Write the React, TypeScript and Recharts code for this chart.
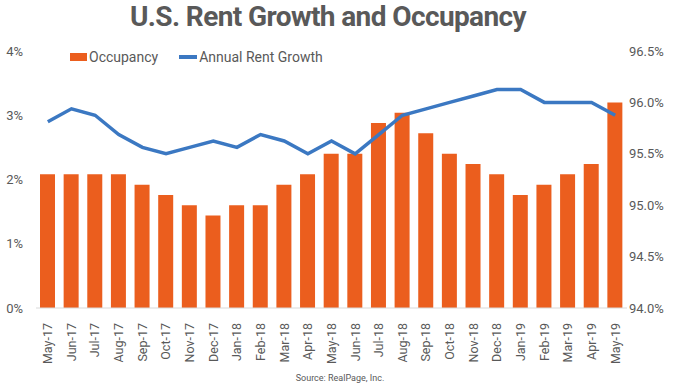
import { ComposedChart, Bar, Line, XAxis, YAxis, Legend } from 'recharts';

const MONTHS = [
  'May-17', 'Jun-17', 'Jul-17', 'Aug-17', 'Sep-17', 'Oct-17', 'Nov-17', 'Dec-17', 'Jan-18',
  'Feb-18', 'Mar-18', 'Apr-18', 'May-18', 'Jun-18', 'Jul-18', 'Aug-18', 'Sep-18', 'Oct-18',
  'Nov-18', 'Dec-18', 'Jan-19', 'Feb-19', 'Mar-19', 'Apr-19', 'May-19',
];

const OCCUPANCY = [
  95.3, 95.3, 95.3, 95.3, 95.2, 95.1, 95.0, 94.9, 95.0, 95.0, 95.2, 95.3, 95.5, 95.5, 95.8,
  95.9, 95.7, 95.5, 95.4, 95.3, 95.1, 95.2, 95.3, 95.4, 96.0,
];

const RENT_GROWTH = [
  2.9, 3.1, 3.0, 2.7, 2.5, 2.4, 2.5, 2.6, 2.5, 2.7, 2.6, 2.4, 2.6, 2.4, 2.7, 3.0, 3.1, 3.2,
  3.3, 3.4, 3.4, 3.2, 3.2, 3.2, 3.0,
];

const LEFT_TICKS = [0, 1, 2, 3, 4];
const RIGHT_TICKS = [94.0, 94.5, 95.0, 95.5, 96.0, 96.5];

const ORANGE = '#EB5E1E';
const BLUE = '#3B78C2';
const GRAY = '#595959';
const FONT = 'Roboto, "Noto Sans", sans-serif';

const data = MONTHS.map((m, i) => ({
  month: m,
  occupancy: OCCUPANCY[i],
  rent: RENT_GROWTH[i],
}));

function MonthTick({ x, y, payload }: any) {
  const ty = y + 7;
  return (
    <text
      x={x}
      y={ty}
      dy="0.35em"
      transform={`rotate(-90, ${x}, ${ty})`}
      textAnchor="end"
      fill={GRAY}
      fontSize={12.5}
      fontFamily={FONT}
    >
      {payload.value}
    </text>
  );
}

function LegendBox() {
  return (
    <div style={{ display: 'flex', alignItems: 'center', fontFamily: FONT, fontSize: 14, color: GRAY }}>
      <span style={{ width: 17, height: 8, background: ORANGE, display: 'inline-block', marginRight: 2 }} />
      <span>Occupancy</span>
      <span style={{ width: 18, height: 4, background: BLUE, display: 'inline-block', marginLeft: 21, marginRight: 2 }} />
      <span>Annual Rent Growth</span>
    </div>
  );
}

export default function App() {
  return (
    <div style={{ position: 'absolute', left: 0, top: 0, width: 680, height: 384, background: '#fff' }}>
      <div
        style={{
          position: 'absolute',
          left: 0,
          top: 0,
          width: 656,
          textAlign: 'center',
          fontFamily: FONT,
          fontWeight: 700,
          fontSize: 28,
          letterSpacing: -0.6,
          color: GRAY,
          lineHeight: '34px',
        }}
      >
        U.S. Rent Growth and Occupancy
      </div>
      <div
        style={{
          position: 'absolute',
          left: 0,
          top: 372,
          width: 680,
          textAlign: 'center',
          fontFamily: FONT,
          fontSize: 9,
          color: GRAY,
          lineHeight: '12px',
        }}
      >
        Source: RealPage, Inc.
      </div>
      <ComposedChart
        width={680}
        height={384}
        data={data}
        margin={{ top: 35, right: 0, bottom: 16, left: 0 }}
        barCategoryGap="36%"
      >
        <XAxis
          dataKey="month"
          interval={0}
          height={60}
          tickLine={false}
          axisLine={{ stroke: '#d9d9d9' }}
          tick={<MonthTick />}
        />
        <YAxis
          yAxisId="left"
          domain={[0, 4]}
          ticks={LEFT_TICKS}
          width={36}
          tickSize={0}
          tickMargin={13}
          tickLine={false}
          axisLine={false}
          tickFormatter={(v: number) => `${v}%`}
          tick={{ fill: GRAY, fontSize: 13, fontFamily: FONT }}
        />
        <YAxis
          yAxisId="right"
          orientation="right"
          domain={[94, 96.5]}
          ticks={RIGHT_TICKS}
          width={53}
          tickSize={0}
          tickMargin={2}
          tickLine={false}
          axisLine={false}
          tickFormatter={(v: number) => `${v.toFixed(1)}%`}
          tick={{ fill: GRAY, fontSize: 13, fontFamily: FONT }}
        />
        <Legend
          verticalAlign="top"
          align="left"
          content={() => <LegendBox />}
          wrapperStyle={{ top: 49, left: 70, width: 'auto' }}
        />
        <Bar
          yAxisId="right"
          dataKey="occupancy"
          name="Occupancy"
          fill={ORANGE}
          barSize={15}
          isAnimationActive={false}
        />
        <Line
          yAxisId="left"
          dataKey="rent"
          name="Annual Rent Growth"
          type="linear"
          stroke={BLUE}
          strokeWidth={3.5}
          dot={false}
          isAnimationActive={false}
        />
      </ComposedChart>
    </div>
  );
}
